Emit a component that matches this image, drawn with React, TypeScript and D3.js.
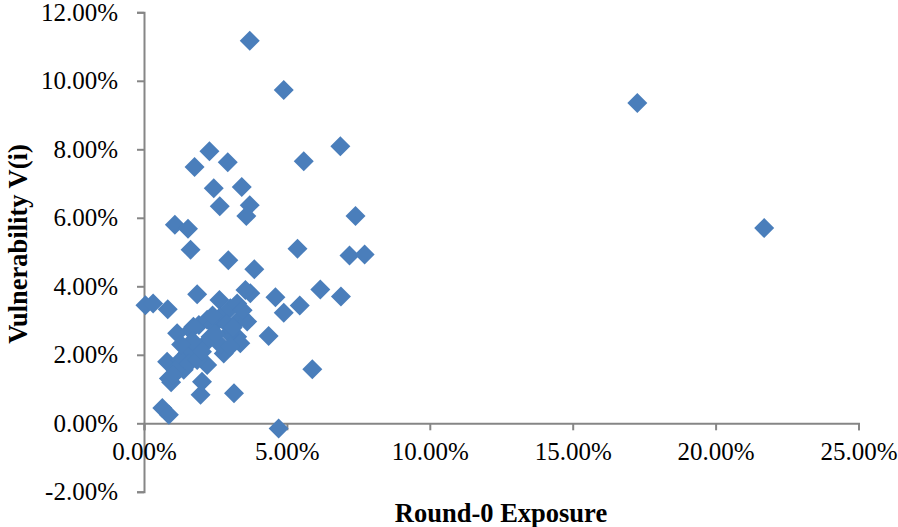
import React, { useEffect, useRef } from 'react';
import * as d3 from 'd3';

// values, in percent
const exposure = [
    3.70, 4.89, 17.26, 6.87, 5.59, 2.29, 1.77, 2.93, 2.44, 3.42,
    2.65, 3.70, 3.58, 7.40, 1.08, 1.54, 21.70, 1.63, 5.37, 7.19,
    7.72, 2.95, 3.86, 6.17, 6.89, 4.60, 4.89, 5.45, 3.72, 3.55,
    4.36, 5.89, 4.71, 0.05, 0.32, 0.83, 1.86, 2.64, 3.15, 0.64,
    0.87, 1.98, 2.03,
    1.16, 0.81, 0.87, 0.95, 1.39, 2.21, 1.63, 1.92, 2.21, 2.67,
    3.02, 3.26, 3.37, 3.61, 3.26, 3.37, 2.79, 2.67, 2.33, 2.44,
    2.15, 1.80, 1.51, 1.28, 1.10, 1.04, 1.57, 1.86, 2.03, 2.97,
    3.02, 1.73, 2.50, 2.90, 3.10, 1.70, 1.30, 2.40, 3.45,
];

const vulnerability = [
    11.17, 9.73, 9.35, 8.09, 7.65, 7.94, 7.48, 7.62, 6.86, 6.90,
    6.34, 6.37, 6.05, 6.05, 5.80, 5.68, 5.70, 5.07, 5.10, 4.90,
    4.93, 4.76, 4.50, 3.91, 3.70, 3.68, 3.23, 3.44, 3.80, 3.89,
    2.55, 1.58, -0.15, 3.45, 3.50, 3.33, 3.77, 3.60, 0.88, 0.45,
    0.25, 0.83, 1.21,
    2.63, 1.80, 1.31, 1.20, 1.56, 1.70, 2.72, 2.87, 3.02, 3.11,
    3.36, 3.50, 3.07, 2.97, 2.53, 2.34, 2.04, 2.29, 2.53, 2.87,
    2.34, 2.14, 2.04, 1.85, 1.56, 1.41, 1.75, 1.85, 2.09, 2.63,
    2.24, 2.82, 2.60, 2.90, 2.80, 2.40, 2.30, 3.15, 3.30,
];

const xTicks = [0, 0.05, 0.10, 0.15, 0.20, 0.25];
const yTicks = [-0.02, 0, 0.02, 0.04, 0.06, 0.08, 0.10, 0.12];

const width = 898;
const height = 527;
const axisColor = '#868686';
const markerColor = '#4a7ebb';
const font = '"Liberation Serif", "Times New Roman", serif';

const pct = (d: any) => (d * 100).toFixed(2) + '%';

const App = () => {
    const container = useRef(null);

    useEffect(() => {
        if (!container.current) return;
        const svg = d3.select(container.current);
        svg.selectAll('*').remove();

        const xScale = d3.scaleLinear().domain([0, 0.25]).range([144, 858.5]);
        const yScale = d3.scaleLinear().domain([-0.02, 0.12]).range([491.8, 12.3]);

        const points = exposure.map((x, i) => ({ x: x / 100, y: vulnerability[i] / 100 }));

        // y axis
        const yAxis = d3.axisLeft(yScale).tickValues(yTicks).tickSize(7).tickPadding(19)
            .tickFormat(pct);
        const yg = svg.append('g')
            .attr('transform', `translate(${xScale(0)},0)`)
            .call(yAxis);
        yg.select('.domain').attr('stroke', axisColor).attr('stroke-width', 2);
        yg.selectAll('.tick line').attr('stroke', axisColor).attr('stroke-width', 2);
        yg.selectAll('.tick text')
            .attr('fill', '#000')
            .style('font-family', font)
            .style('font-size', '25px');

        // x axis crosses at y = 0
        const xAxis = d3.axisBottom(xScale).tickValues(xTicks).tickSize(7).tickPadding(12)
            .tickFormat(pct);
        const xg = svg.append('g')
            .attr('transform', `translate(0,${yScale(0)})`)
            .call(xAxis);
        xg.select('.domain').attr('stroke', axisColor).attr('stroke-width', 2);
        xg.selectAll('.tick line').attr('stroke', axisColor).attr('stroke-width', 2);
        xg.selectAll('.tick text')
            .attr('fill', '#000')
            .style('font-family', font)
            .style('font-size', '25px');

        // markers
        const diamond = 'M0,-10L10,0L0,10L-10,0Z';
        svg.append('g')
            .selectAll('path')
            .data(points)
            .join('path')
            .attr('d', diamond)
            .attr('fill', markerColor)
            .attr('transform', (d: any) => `translate(${xScale(d.x)},${yScale(d.y)})`);

        // titles
        svg.append('text')
            .attr('x', 501)
            .attr('y', 522)
            .attr('text-anchor', 'middle')
            .style('font-family', font)
            .style('font-size', '26.5px')
            .style('font-weight', 'bold')
            .text('Round-0 Exposure');

        svg.append('text')
            .attr('transform', 'translate(27,244) rotate(-90)')
            .attr('text-anchor', 'middle')
            .style('font-family', font)
            .style('font-size', '26.5px')
            .style('font-weight', 'bold')
            .text('Vulnerability V(i)');
    }, []);

    return (
        <svg
            ref={container}
            width={width}
            height={height}
            style={{ position: 'absolute', left: 0, top: 0, background: '#fff' }}
        />
    );
};

export default App;
